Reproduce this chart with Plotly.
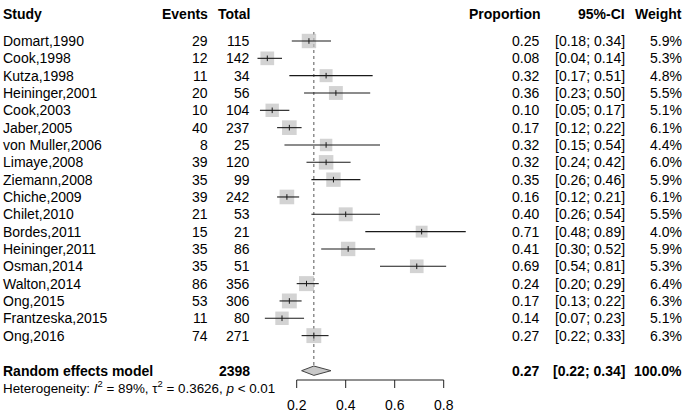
import plotly.graph_objects as go

studies = ["Domart,1990", "Cook,1998", "Kutza,1998", "Heininger,2001", "Cook,2003",
           "Jaber,2005", "von Muller,2006", "Limaye,2008", "Ziemann,2008", "Chiche,2009",
           "Chilet,2010", "Bordes,2011", "Heininger,2011", "Osman,2014", "Walton,2014",
           "Ong,2015", "Frantzeska,2015", "Ong,2016"]
events = [29, 12, 11, 20, 10, 40, 8, 39, 35, 39, 21, 15, 35, 35, 86, 53, 11, 74]
totals = [115, 142, 34, 56, 104, 237, 25, 120, 99, 242, 53, 21, 86, 51, 356, 306, 80, 271]
proportion = [0.25, 0.08, 0.32, 0.36, 0.10, 0.17, 0.32, 0.32, 0.35, 0.16, 0.40, 0.71,
              0.41, 0.69, 0.24, 0.17, 0.14, 0.27]
ci_low = [0.18, 0.04, 0.17, 0.23, 0.05, 0.12, 0.15, 0.24, 0.26, 0.12, 0.26, 0.48,
          0.30, 0.54, 0.20, 0.13, 0.07, 0.22]
ci_high = [0.34, 0.14, 0.51, 0.50, 0.17, 0.22, 0.54, 0.42, 0.46, 0.21, 0.54, 0.89,
           0.52, 0.81, 0.29, 0.22, 0.23, 0.33]
weights = [5.9, 5.3, 4.8, 5.5, 5.1, 6.1, 4.4, 6.0, 5.9, 6.1, 5.5, 4.0, 5.9, 5.3, 6.4,
           6.3, 5.1, 6.3]
summary_total = 2398
summary_est = 0.27
summary_low = 0.22
summary_high = 0.34
summary_weight = 100.0
tick_vals = [0.2, 0.4, 0.6, 0.8]
tick_text = ["0.2", "0.4", "0.6", "0.8"]
heterogeneity = "Heterogeneity: <i>I</i><sup>2</sup> = 89%, τ<sup>2</sup> = 0.3626, <i>p</i> < 0.01"

W, H = 685, 412
FONT = "Liberation Sans, Arial, sans-serif"
FS = 14

# layout geometry (pixels)
px_per_unit = 245.0
x_at_02 = 296.7
row0_px = 41.0
row_step = 17.33

def ypos(px):
    return (px - row0_px) / row_step

x0 = 0.2 - x_at_02 / px_per_unit
x1 = x0 + W / px_per_unit

n = len(studies)
rows = list(range(n))
y_header = ypos(14)
y_summary = ypos(370.7)
y_het = ypos(387)
y_axis = ypos(380)
y_ticklab = ypos(405)

fig = go.Figure()

# dotted reference line at summary estimate
fig.add_shape(type="line", xref="x", yref="y", x0=summary_est, x1=summary_est,
              y0=ypos(32), y1=y_summary - 0.27,
              line=dict(color="#555555", width=1, dash="dot"), layer="below")

# squares
sizes = [15.0 * (w / max(weights)) ** 0.5 for w in weights]
fig.add_trace(go.Scatter(x=proportion, y=rows, mode="markers",
                         marker=dict(symbol="square", size=sizes, color="#C0C0C0",
                                     line=dict(width=0)),
                         hoverinfo="skip", showlegend=False))

# CI lines
cx, cy = [], []
for i in range(n):
    cx += [ci_low[i], ci_high[i], None]
    cy += [i, i, None]
fig.add_trace(go.Scatter(x=cx, y=cy, mode="lines", line=dict(color="#1a1a1a", width=1.1),
                         hoverinfo="skip", showlegend=False))

# point estimate ticks
fig.add_trace(go.Scatter(x=proportion, y=rows, mode="markers",
                         marker=dict(symbol="line-ns", size=4,
                                     line=dict(color="#1a1a1a", width=1)),
                         hoverinfo="skip", showlegend=False))

# diamond
dh = 0.27
fig.add_trace(go.Scatter(x=[summary_low, summary_est, summary_high, summary_est, summary_low],
                         y=[y_summary, y_summary - dh, y_summary, y_summary + dh, y_summary],
                         mode="lines", fill="toself", fillcolor="#C8C8C8",
                         line=dict(color="#444444", width=1),
                         hoverinfo="skip", showlegend=False))

# axis line and ticks
fig.add_shape(type="line", xref="x", yref="y", x0=tick_vals[0], x1=tick_vals[-1],
              y0=y_axis, y1=y_axis, line=dict(color="#222222", width=1))
for tv in tick_vals:
    fig.add_shape(type="line", xref="x", yref="y", x0=tv, x1=tv, y0=y_axis,
                  y1=y_axis + 8 / row_step, line=dict(color="#222222", width=1))

ann = []
for tv, tt in zip(tick_vals, tick_text):
    ann.append(dict(x=tv, y=y_ticklab, xref="x", yref="y", text=tt, showarrow=False,
                    xanchor="center", yanchor="middle",
                    font=dict(family=FONT, size=FS, color="black")))

def txt(xpx, y, s, anchor, bold=False, size=FS):
    if bold:
        s = "<b>" + s + "</b>"
    ann.append(dict(x=xpx / W, y=y, xref="paper", yref="y", text=s, showarrow=False,
                    xanchor=anchor, yanchor="middle",
                    font=dict(family=FONT, size=size, color="black")))

# column positions (px)
X_STUDY, X_EVENTS, X_TOTAL, X_PROP, X_CI, X_W = 1, 210, 252, 541, 627, 684

txt(X_STUDY, y_header, "Study", "left", True)
txt(X_EVENTS, y_header, "Events", "right", True)
txt(X_TOTAL, y_header, "Total", "right", True)
txt(X_PROP + 2, y_header, "Proportion", "right", True)
txt(X_CI, y_header, "95%-CI", "right", True)
txt(X_W, y_header, "Weight", "right", True)

for i in range(n):
    txt(X_STUDY, i, studies[i], "left")
    txt(X_EVENTS, i, str(events[i]), "right")
    txt(X_TOTAL, i, str(totals[i]), "right")
    txt(X_PROP, i, f"{proportion[i]:.2f}", "right")
    txt(X_CI, i, f"[{ci_low[i]:.2f}; {ci_high[i]:.2f}]", "right")
    txt(X_W, i, f"{weights[i]:.1f}%", "right")

txt(X_STUDY, y_summary, "Random effects model", "left", True)
txt(X_TOTAL, y_summary, str(summary_total), "right", True)
txt(X_PROP, y_summary, f"{summary_est:.2f}", "right", True)
txt(X_CI, y_summary, f"[{summary_low:.2f}; {summary_high:.2f}]", "right", True)
txt(X_W, y_summary, f"{summary_weight:.1f}%", "right", True)
txt(X_STUDY, y_het, heterogeneity, "left", size=13.4)

fig.update_layout(
    width=W, height=H, margin=dict(l=0, r=0, t=0, b=0),
    paper_bgcolor="white", plot_bgcolor="white",
    xaxis=dict(range=[x0, x1], visible=False, fixedrange=True),
    yaxis=dict(range=[ypos(H), ypos(0)], visible=False, fixedrange=True),
    annotations=ann, showlegend=False,
)
fig.write_html("out.html", config={"displayModeBar": False},
               post_script="document.body.style.margin='0px';")
